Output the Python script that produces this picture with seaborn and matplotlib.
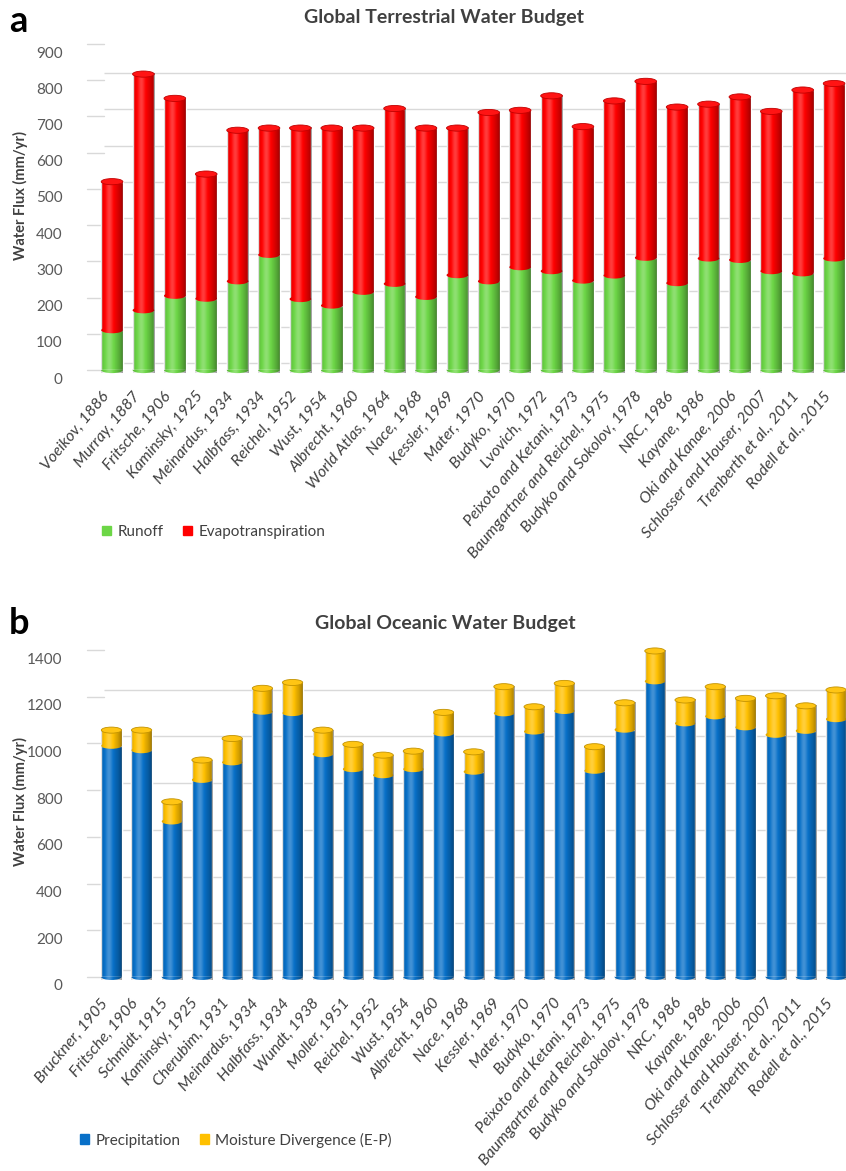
import numpy as np
import pandas as pd
import matplotlib
matplotlib.use("Agg")
import matplotlib.pyplot as plt
import seaborn as sns
from matplotlib.patches import Patch, Ellipse
from matplotlib.transforms import ScaledTranslation

# ---- data (mm/yr) ----
land_refs = ["Voeikov, 1886", "Murray, 1887", "Fritsche, 1906", "Kaminsky, 1925",
             "Meinardus, 1934", "Halbfass, 1934", "Reichel, 1952", "Wust, 1954",
             "Albrecht, 1960", "World Atlas, 1964", "Nace, 1968", "Kessler, 1969",
             "Mater, 1970", "Budyko, 1970", "Lvovich, 1972", "Peixoto and Ketani, 1973",
             "Baumgartner and Reichel, 1975", "Budyko and Sokolov, 1978", "NRC, 1986",
             "Kayane, 1986", "Oki and Kanae, 2006", "Schlosser and Houser, 2007",
             "Trenberth et al., 2011", "Rodell et al., 2015"]
land_runoff = [110, 165, 205, 197, 245, 318, 196, 178, 216, 238, 202, 262,
               245, 284, 273, 247, 261, 310, 240, 308, 304, 273, 267, 308]
land_et = [410, 652, 545, 344, 417, 350, 472, 490, 452, 484, 466, 406,
           466, 433, 484, 425, 482, 487, 486, 426, 450, 441, 506, 483]

ocean_refs = ["Bruckner, 1905", "Fritsche, 1906", "Schmidt, 1915", "Kaminsky, 1925",
              "Cherubim, 1931", "Meinardus, 1934", "Halbfass, 1934", "Wundt, 1938",
              "Moller, 1951", "Reichel, 1952", "Wust, 1954", "Albrecht, 1960",
              "Nace, 1968", "Kessler, 1969", "Mater, 1970", "Budyko, 1970",
              "Peixoto and Ketani, 1973", "Baumgartner and Reichel, 1975",
              "Budyko and Sokolov, 1978", "NRC, 1986", "Kayane, 1986",
              "Oki and Kanae, 2006", "Schlosser and Houser, 2007",
              "Trenberth et al., 2011", "Rodell et al., 2015"]
ocean_precip = [990, 971, 666, 844, 919, 1136, 1130, 954, 890, 864, 890, 1043, 879,
                1129, 1051, 1139, 883, 1059, 1266, 1086, 1116, 1069, 1037, 1054, 1104]
ocean_div = [67, 86, 84, 85, 102, 100, 131, 103, 106, 86, 77, 90, 85,
             114, 106, 118, 103, 115, 130, 100, 127, 124, 167, 107, 125]

GREEN, RED = "#6cd646", "#ff0000"
BLUE, YELLOW = "#0870c8", "#ffc000"
TXT = "#404040"
FONT = ["Lato", "DejaVu Sans"]

sns.set_theme(style="white")
plt.rcParams["font.family"] = FONT


def shade_gradient():
    t = np.linspace(0, 1, 120)
    v = 0.24 * np.exp(-((t - 0.38) / 0.16) ** 2) - 0.38 * ((t - 0.38) / 0.62) ** 2
    rgba = np.zeros((1, t.size, 4))
    rgba[0, v > 0, :3] = 1.0
    rgba[0, :, 3] = np.abs(v)
    return rgba


def to_cylinders(ax, n, low_col, top_col, cap_h):
    grad = shade_gradient()
    tops = ax.patches[:n]
    lows = ax.patches[n:2 * n]
    for p, q in zip(tops, lows):
        x0, w = p.get_x(), p.get_width()
        y1 = p.get_y() + p.get_height()
        yb = q.get_height()
        cx = x0 + w / 2
        # rounded bottom
        ax.add_patch(Ellipse((cx, 0), w, cap_h, facecolor=low_col, edgecolor="none",
                             zorder=1.9, clip_on=False))
        # curved boundary between the two layers
        ax.add_patch(Ellipse((cx, yb), w, cap_h, facecolor=top_col, edgecolor="none",
                             zorder=4))
        ax.imshow(grad, extent=(x0, x0 + w, -cap_h / 2, y1), aspect="auto",
                  interpolation="bilinear", zorder=5, clip_on=False)
        # top cap
        ax.add_patch(Ellipse((cx, y1), w, cap_h,
                             facecolor=sns.set_hls_values(top_col, l=0.54),
                             edgecolor=sns.set_hls_values(top_col, l=0.38), lw=0.6,
                             zorder=6, clip_on=False))


def style_axis(ax, ymax, step, xmax):
    ticks = np.arange(0, ymax + 1, step)
    ax.set_ylim(0, ymax)
    ax.set_xlim(-0.51, xmax)
    ax.set_yticks(ticks)
    for s in ax.spines.values():
        s.set_visible(False)
    ax.tick_params(axis="y", length=0, pad=24, labelsize=11, labelcolor="#595959")
    ax.tick_params(axis="x", length=0, pad=17)
    ax.set_xlabel("")
    ax.set_ylabel("")
    fig = ax.figure
    up = ScaledTranslation(0, 0.07, fig.dpi_scale_trans)
    ax.hlines(ticks, 0.01, 1, transform=ax.get_yaxis_transform() + up,
              color="#d9d9d9", lw=1, zorder=0)
    # slanted side-wall piece of the grid
    for tv in ticks:
        ax.plot([-0.012, 0.01], [tv, tv], color="#d9d9d9", lw=1, zorder=0, clip_on=False,
                transform=ax.get_yaxis_transform())
    down = ScaledTranslation(0, -0.08, fig.dpi_scale_trans)
    for lbl in ax.get_yticklabels():
        lbl.set_transform(lbl.get_transform() + down)
    left = ScaledTranslation(-0.06, 0, fig.dpi_scale_trans)
    for lbl in ax.get_xticklabels():
        lbl.set_rotation(50)
        lbl.set_ha("right")
        lbl.set_va("center")
        lbl.set_rotation_mode("anchor")
        lbl.set_fontsize(11.5)
        lbl.set_fontstyle("italic")
        lbl.set_color(TXT)
        lbl.set_transform(lbl.get_transform() + left)


fig = plt.figure(figsize=(8.46, 11.71), dpi=100)
ax_a = fig.add_axes([0.1135, 0.684, 0.8865, 0.2784])
ax_b = fig.add_axes([0.1135, 0.1657, 0.8865, 0.2792])

# ---- panel a ----
land = pd.DataFrame({"ref": land_refs, "Runoff": land_runoff,
                     "Evapotranspiration": land_et})
land["total"] = land["Runoff"] + land["Evapotranspiration"]
sns.barplot(data=land, x="ref", y="total", color=RED, saturation=1, width=0.69,
            ax=ax_a, zorder=2)
sns.barplot(data=land, x="ref", y="Runoff", color=GREEN, saturation=1, width=0.69,
            ax=ax_a, zorder=3)
to_cylinders(ax_a, len(land), GREEN, RED, 17)
style_axis(ax_a, 900, 100, 23.38)

# ---- panel b ----
ocean = pd.DataFrame({"ref": ocean_refs, "Precipitation": ocean_precip,
                      "Moisture Divergence (E-P)": ocean_div})
ocean["total"] = ocean["Precipitation"] + ocean["Moisture Divergence (E-P)"]
sns.barplot(data=ocean, x="ref", y="total", color=YELLOW, saturation=1, width=0.67,
            ax=ax_b, zorder=2)
sns.barplot(data=ocean, x="ref", y="Precipitation", color=BLUE, saturation=1, width=0.67,
            ax=ax_b, zorder=3)
to_cylinders(ax_b, len(ocean), BLUE, YELLOW, 26)
style_axis(ax_b, 1400, 200, 24.33)

# ---- texts ----
H, W = 1171, 846
fig.text(444 / W, 1 - 17 / H, "Global Terrestrial Water Budget", ha="center", va="center",
         fontsize=14, fontweight="bold", color=TXT)
fig.text(445 / W, 1 - 623 / H, "Global Oceanic Water Budget", ha="center", va="center",
         fontsize=14, fontweight="bold", color=TXT)
fig.text(9 / W, 1 - 21 / H, "a", ha="left", va="center", fontsize=26, fontweight="bold",
         color="black")
fig.text(9 / W, 1 - 624 / H, "b", ha="left", va="center", fontsize=26, fontweight="bold",
         color="black")
fig.text(20 / W, 1 - 195 / H, "Water Flux (mm/yr)", rotation=90, ha="center", va="center",
         fontsize=10.5, fontweight="bold", color=TXT)
fig.text(20 / W, 1 - 801 / H, "Water Flux (mm/yr)", rotation=90, ha="center", va="center",
         fontsize=10.5, fontweight="bold", color=TXT)

leg_kw = dict(loc="center left", bbox_transform=fig.transFigure, ncol=2, frameon=False,
              handlelength=0.6, handleheight=0.6, handletextpad=0.4, columnspacing=1.3,
              borderpad=0, borderaxespad=0, fontsize=11, labelcolor=TXT)
ax_a.legend(handles=[Patch(color=GREEN, label="Runoff"),
                     Patch(color=RED, label="Evapotranspiration")],
            bbox_to_anchor=(102 / W, 1 - 532 / H), **leg_kw)
ax_b.legend(handles=[Patch(color=BLUE, label="Precipitation"),
                     Patch(color=YELLOW, label="Moisture Divergence (E-P)")],
            bbox_to_anchor=(80 / W, 1 - 1140 / H), **leg_kw)

fig.savefig("out.png", dpi=100, facecolor="white")
